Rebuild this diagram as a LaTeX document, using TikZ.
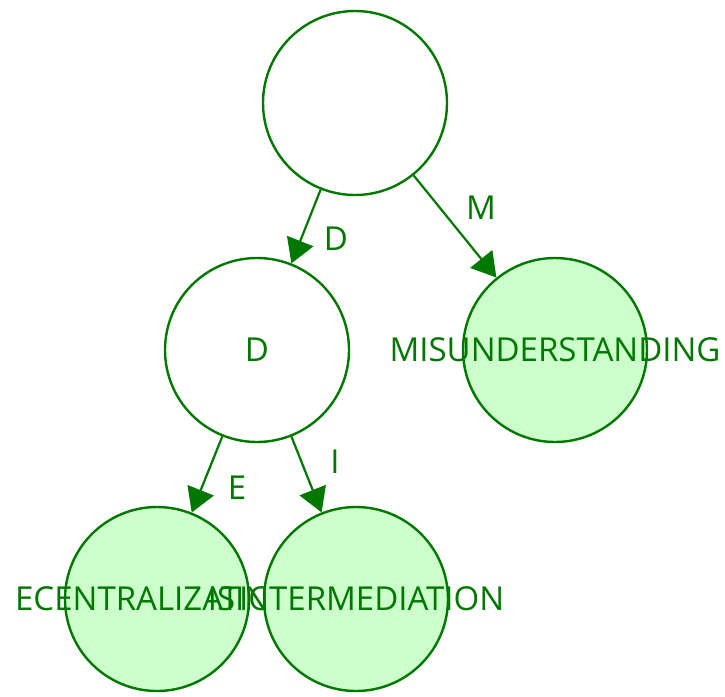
\documentclass[tikz,border=0pt]{standalone}
\usepackage{fontspec}
\setmainfont{Open Sans}
\usetikzlibrary{arrows.meta}
\definecolor{gstroke}{RGB}{0,120,0}
\definecolor{gfill}{RGB}{204,255,204}
\begin{document}
\begin{tikzpicture}[x=1pt,y=-1pt,
  tnode/.style={circle, draw=gstroke, line width=2.4pt, minimum size=184pt, inner sep=0pt,
    text=gstroke, font=\fontsize{33}{38}\selectfont},
  leaf/.style={tnode, fill=gfill},
  inode/.style={tnode, fill=white},
  edge/.style={draw=gstroke, line width=2.2pt, -{Triangle[length=24pt,width=28pt]}},
  elabel/.style={text=gstroke, inner sep=0pt, font=\fontsize{33}{38}\selectfont}]
\useasboundingbox (0,0) rectangle (725,696);
\node[inode] (root) at (355,103) {};
\node[inode] (d) at (257,350) {\makebox[0pt]{D}};
\node[leaf] (m) at (555,350) {\makebox[0pt]{MISUNDERSTANDING}};
\node[leaf] (e) at (157,599) {\makebox[0pt]{ECENTRALIZATION}};
\node[leaf] (i) at (356,599) {\makebox[0pt]{ISINTERMEDIATION}};
\draw[edge] (root) -- (d);
\draw[edge] (root) -- (m);
\draw[edge] (d) -- (e);
\draw[edge] (d) -- (i);
\node[elabel] (ld) at (336,239) {D};
\node[elabel] (lm) at (481,208) {M};
\node[elabel] (le) at (237,488) {E};
\node[elabel] (li) at (335,462) {I};
\end{tikzpicture}
\end{document}
